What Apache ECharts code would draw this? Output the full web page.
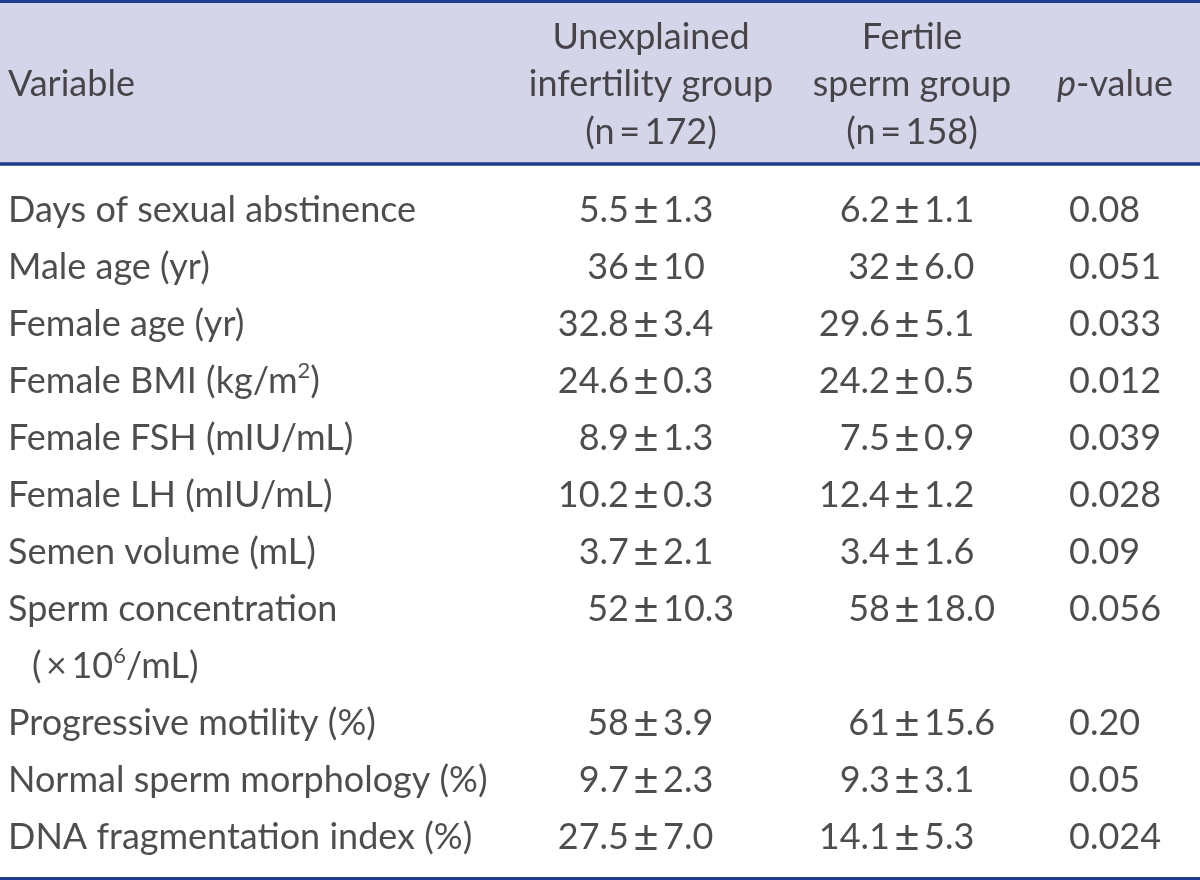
<!DOCTYPE html>
<html>
<head>
<meta charset="utf-8">
<script src="https://cdn.jsdelivr.net/npm/echarts@6/dist/echarts.min.js"></script>
<style>
html,body{margin:0;padding:0;background:#ffffff;}
#chart{width:1200px;height:880px;}
</style>
</head>
<body>
<div id="chart"></div>
<script>
// ---------------- data ----------------
const headers = ['Variable', 'Unexplained\ninfertility group\n(n\u2009=\u2009172)', 'Fertile\nsperm group\n(n\u2009=\u2009158)', 'p-value'];
const variables = [
  'Days of sexual abstinence',
  'Male age (yr)',
  'Female age (yr)',
  'Female BMI (kg/m\u00B2)',
  'Female FSH (mIU/mL)',
  'Female LH (mIU/mL)',
  'Semen volume (mL)',
  'Sperm concentration\n(\u2009\u00D7\u200910\u2076/mL)',
  'Progressive motility (%)',
  'Normal sperm morphology (%)',
  'DNA fragmentation index (%)'
];
const unexplainedMean = ['5.5', '36', '32.8', '24.6', '8.9', '10.2', '3.7', '52', '58', '9.7', '27.5'];
const unexplainedSD   = ['1.3', '10', '3.4', '0.3', '1.3', '0.3', '2.1', '10.3', '3.9', '2.3', '7.0'];
const fertileMean     = ['6.2', '32', '29.6', '24.2', '7.5', '12.4', '3.4', '58', '61', '9.3', '14.1'];
const fertileSD       = ['1.1', '6.0', '5.1', '0.5', '0.9', '1.2', '1.6', '18.0', '15.6', '3.1', '5.3'];
const pValues         = ['0.08', '0.051', '0.033', '0.012', '0.039', '0.028', '0.09', '0.056', '0.20', '0.05', '0.024'];

// ---------------- style / layout ----------------
const FONT = "Lato, 'Noto Sans', sans-serif";
const TEXT = '#231f20';
const NAVY = '#1f3d8c';
const HEAD_BG = '#d4d5e9';
const FS = 36;
const PM_FS = 44;
const BODY_LH = 57;
const HEAD_LH = 47.5;
const PM_GAP = 17;
// horizontal shift of each column's anchor from its category centre
const bodyShift = [-142, 196, 157, 19];
const headShift = [-142, 201, 162, 7];
const headAlign = ['left', 'center', 'center', 'left'];

// row (line) index of each variable, derived from how many lines each label uses
const rowIndex = [];
let lineCount = 0;
variables.forEach(v => { rowIndex.push(lineCount); lineCount += v.split('\n').length; });
const lineCats = Array.from({length: lineCount}, (_, i) => String(i));
const colCats = ['c0', 'c1', 'c2', 'c3'];

const baseText = {color: TEXT, fontFamily: FONT, fontSize: FS};
const supStyle = {color: TEXT, fontFamily: FONT, fontSize: 22, lineHeight: 22, padding: [0, 0, 20, 0]};
const SUP = {'\u00B2': '2', '\u2076': '6'};
const withSup = s => s.replace(/[\u00B2\u2076]/g, c => '{sup|' + SUP[c] + '}');

function textSeries(col, texts, label) {
  return {
    type: 'scatter',
    xAxisIndex: 2, yAxisIndex: 1,
    symbolSize: 1,
    itemStyle: {color: 'rgba(0,0,0,0)'},
    silent: true,
    emphasis: {disabled: true},
    data: texts.map((t, i) => ({value: [col, rowIndex[i]], txt: t})),
    label: Object.assign({
      show: true, position: 'inside',
      formatter: p => p.data.txt,
      lineHeight: BODY_LH
    }, baseText, label)
  };
}
function pmSeries(col, means, sds) {
  const s = bodyShift[col];
  return [
    textSeries(col, means, {align: 'right', verticalAlign: 'middle', offset: [s - PM_GAP, 0]}),
    textSeries(col, means.map(() => '\u00B1'), {align: 'center', verticalAlign: 'middle', offset: [s, 1], fontSize: PM_FS}),
    textSeries(col, sds, {align: 'left', verticalAlign: 'middle', offset: [s + PM_GAP, 0]})
  ];
}

const headerSeries = {
  type: 'scatter',
  xAxisIndex: 0, yAxisIndex: 0,
  symbolSize: 1,
  itemStyle: {color: 'rgba(0,0,0,0)'},
  silent: true,
  emphasis: {disabled: true},
  data: headers.map((h, i) => ({
    value: [i, 0], txt: h,
    label: {align: headAlign[i], offset: [headShift[i], 2]}
  })),
  label: Object.assign({
    show: true, position: 'inside', verticalAlign: 'middle',
    lineHeight: HEAD_LH,
    formatter: p => p.data.txt.replace(/^p-/, '{i|p}-'),
    rich: {i: Object.assign({fontStyle: 'italic', lineHeight: HEAD_LH}, baseText)}
  }, baseText)
};

const variableSeries = textSeries(0, variables, {
  align: 'left', verticalAlign: 'top', offset: [bodyShift[0], -BODY_LH / 2],
  formatter: p => p.data.txt.split('\n').map((l, i) => {
    if (!i) return withSup(l);
    return '{ind|' + l.replace(/[\u00B2\u2076]/g, c => '}{sup|' + SUP[c] + '}{ind2|') + '}';
  }).join('\n'),
  rich: {
    sup: supStyle,
    ind: Object.assign({padding: [0, 0, 0, 24], lineHeight: BODY_LH}, baseText),
    ind2: Object.assign({lineHeight: BODY_LH}, baseText)
  }
});

const hiddenAxis = {show: false};
const option = {
  animation: false,
  grid: [
    {left: 0, right: 0, top: 1.5, height: 162.5, show: true, backgroundColor: HEAD_BG, borderWidth: 0},
    {left: 0, right: 0, top: 181.5, height: BODY_LH * lineCount, show: false}
  ],
  xAxis: [
    {type: 'category', data: colCats, gridIndex: 0, position: 'top',
     axisLine: {show: true, lineStyle: {color: NAVY, width: 3}}, axisTick: {show: false}, axisLabel: {show: false}, splitLine: {show: false}},
    {type: 'category', data: colCats, gridIndex: 0, position: 'bottom',
     axisLine: {show: true, lineStyle: {color: NAVY, width: 3.5}}, axisTick: {show: false}, axisLabel: {show: false}, splitLine: {show: false}},
    {type: 'category', data: colCats, gridIndex: 1, position: 'bottom', offset: 13,
     axisLine: {show: true, lineStyle: {color: NAVY, width: 3}}, axisTick: {show: false}, axisLabel: {show: false}, splitLine: {show: false}}
  ],
  yAxis: [
    Object.assign({type: 'category', data: ['h'], gridIndex: 0}, hiddenAxis),
    Object.assign({type: 'category', data: lineCats, gridIndex: 1, inverse: true}, hiddenAxis)
  ],
  series: [
    headerSeries,
    variableSeries,
    ...pmSeries(1, unexplainedMean, unexplainedSD),
    ...pmSeries(2, fertileMean, fertileSD),
    textSeries(3, pValues, {align: 'left', verticalAlign: 'middle', offset: [bodyShift[3], 0]})
  ]
};

const chart = echarts.init(document.getElementById('chart'), null, {renderer: 'canvas'});
chart.setOption(option);
</script>
</body>
</html>
